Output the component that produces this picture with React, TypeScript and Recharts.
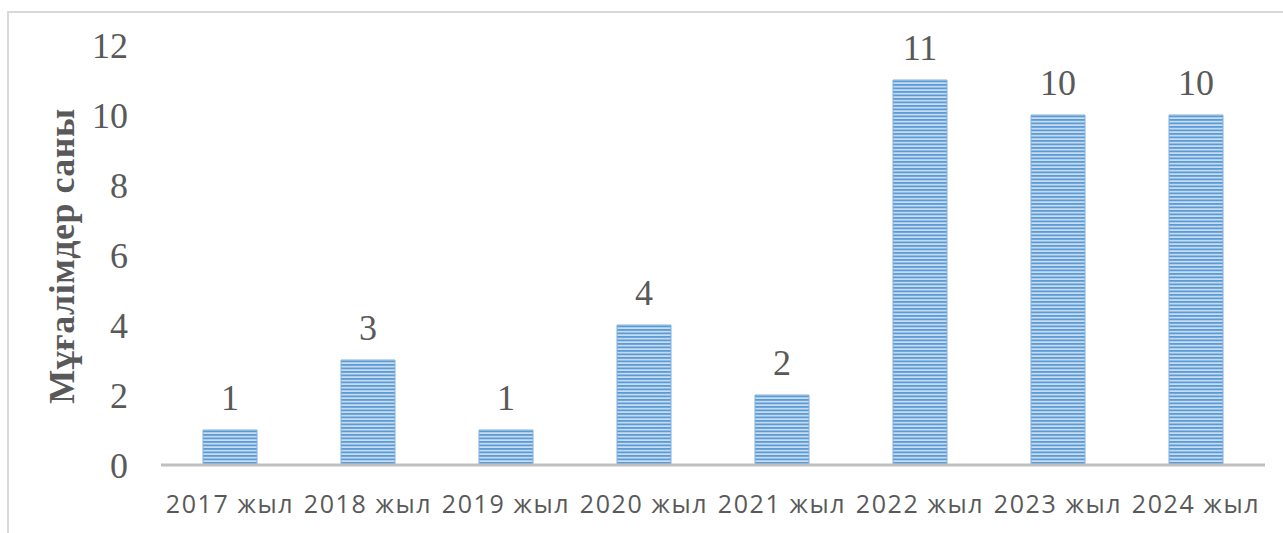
import React from 'react';
import { BarChart, Bar, XAxis, YAxis, LabelList } from 'recharts';

// Chart values
const years = ['2017 жыл', '2018 жыл', '2019 жыл', '2020 жыл', '2021 жыл', '2022 жыл', '2023 жыл', '2024 жыл'];
const teachers = [1, 3, 1, 4, 2, 11, 10, 10];
const yTicks = [0, 2, 4, 6, 8, 10, 12];

const data = years.map((year, i) => ({ year, value: teachers[i] }));

const serif = '"Liberation Serif", "Times New Roman", serif';
const sans = '"Open Sans", "Noto Sans", sans-serif';
const grey = '#595959';

// Rotated bold axis title on the left
const YTitle = () => (
  <text
    x={62}
    y={256}
    transform="rotate(-90 62 256)"
    textAnchor="middle"
    dominantBaseline="central"
    fontFamily={serif}
    fontWeight="bold"
    fontSize={36}
    letterSpacing={0.5}
    fill={grey}
  >
    Мұғалімдер саны
  </text>
);

const App: React.FC = () => {
  return (
    <div style={{ position: 'absolute', left: 0, top: 0, width: 1283, height: 533, overflow: 'hidden', background: '#fff' }}>
      {/* outer frame, runs off the right and bottom edges */}
      <div
        style={{
          position: 'absolute',
          left: 7,
          top: 11,
          width: 1320,
          height: 600,
          border: '2px solid #D9D9D9',
          boxSizing: 'border-box',
        }}
      />
      <div style={{ position: 'absolute', left: 0, top: 0 }}>
        <BarChart
          width={1283}
          height={533}
          data={data}
          margin={{ top: 45, right: 18, left: 0, bottom: 8 }}
        >
          <defs>
            <pattern id="stripes" patternUnits="userSpaceOnUse" width={8} height={3.5}>
              <rect x={0} y={0} width={8} height={3.5} fill="#C9DDF2" />
              <rect x={0} y={0} width={8} height={1.8} fill="#5B9BD5" />
            </pattern>
          </defs>
          <XAxis
            dataKey="year"
            height={60}
            axisLine={{ stroke: '#BFBFBF', strokeWidth: 3 }}
            tickLine={false}
            tickSize={8}
            tickMargin={22}
            interval={0}
            tick={{ fill: grey, fontFamily: sans, fontSize: 25, letterSpacing: 1.6 }}
          />
          <YAxis
            width={161}
            domain={[0, 12]}
            ticks={yTicks}
            axisLine={false}
            tickLine={false}
            tickSize={8}
            tickMargin={25}
            tick={{ fill: grey, fontFamily: serif, fontSize: 36 }}
          />
          <Bar
            dataKey="value"
            barSize={54}
            fill="url(#stripes)"
            stroke="#7EB0DE"
            strokeWidth={1}
            isAnimationActive={false}
          >
            <LabelList
              dataKey="value"
              position="top"
              offset={20}
              fill={grey}
              fontFamily={serif}
              fontSize={36}
            />
          </Bar>
          <YTitle />
        </BarChart>
      </div>
    </div>
  );
};

export default App;
